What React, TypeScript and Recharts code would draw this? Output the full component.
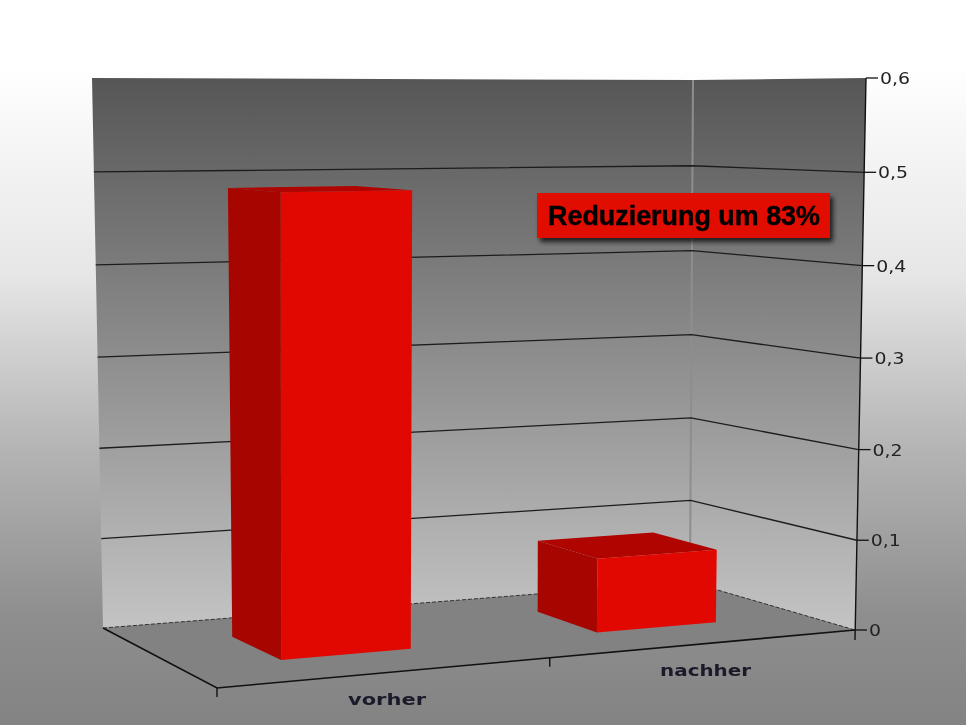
import { Bar, BarChart, Customized, XAxis, YAxis } from 'recharts';

const CATEGORIES = ['vorher', 'nachher'];
const VALUES = [0.485, 0.082];
const Y_TICKS = [0, 0.1, 0.2, 0.3, 0.4, 0.5, 0.6];
const Y_MAX = 0.6;
const CALLOUT = 'Reduzierung um 83%';

const chartData = CATEGORIES.map((name, i) => ({ name, value: VALUES[i] }));

const WIDTH = 966;
const HEIGHT = 725;
const PLOT = { left: 217, right: 855, top: 78, bottom: 630 };
const PLOT_W = PLOT.right - PLOT.left;
const PLOT_H = PLOT.bottom - PLOT.top;

// corners of the 3d box on screen: front-left, front-right, back-right, back-left
const FLOOR = [[217, 688], [855, 630], [690, 582], [103, 628]];
const CEILING = [[219, 78], [866, 78], [693, 80], [92, 78]];

// how far the bars sit into the box (0 = front edge, 1 = back wall)
const BAR_FRONT = 0.32;
const BAR_BACK = 0.72;

const quad = (c: number[][], u: number, w: number) =>
  [0, 1].map(k =>
    (1 - w) * ((1 - u) * c[0][k] + u * c[1][k]) + w * ((1 - u) * c[3][k] + u * c[2][k])
  );

// t and f are plain 0..1 positions along the axes, the rest is perspective
const project = (t: number, w: number, f: number) => {
  const u = (1.09 * t) / (1 + 0.09 * t);
  const v = f / (1 + 0.03 * (1 - f));
  const a = quad(FLOOR, u, w);
  const b = quad(CEILING, u, w);
  return [a[0] + (b[0] - a[0]) * v, a[1] + (b[1] - a[1]) * v];
};

const pts = (list: number[][]) => list.map(p => `${p[0]},${p[1]}`).join(' ');

const Box = () => {
  const backLeft = [project(0, 1, 0), project(0, 1, 1)];
  const corner = [project(1, 1, 0), project(1, 1, 1)];
  const right = [project(1, 0, 0), project(1, 0, 1)];
  return (
    <g>
      <defs>
        <linearGradient id="wall" gradientUnits="userSpaceOnUse" x1="0" x2="0" y1={PLOT.top} y2={PLOT.bottom}>
          <stop offset="0" stopColor="#565656" />
          <stop offset="1" stopColor="#c4c4c4" />
        </linearGradient>
        <filter id="callout" x="-10%" y="-20%" width="120%" height="150%">
          <feDropShadow dx="3" dy="4" stdDeviation="2.5" floodColor="#000" floodOpacity="0.75" />
        </filter>
      </defs>
      <polygon points={pts([backLeft[0], corner[0], corner[1], backLeft[1]])} fill="url(#wall)" />
      <polygon points={pts([corner[0], right[0], right[1], corner[1]])} fill="url(#wall)" />
      <polygon points={pts([project(0, 0, 0), project(1, 0, 0), project(1, 1, 0), project(0, 1, 0)])} fill="#828282" />
      <line x1={corner[0][0]} y1={corner[0][1]} x2={corner[1][0]} y2={corner[1][1]} stroke="#8e8e8e" strokeWidth={2} />
      {Y_TICKS.filter(v => v > 0 && v < Y_MAX).map(v => {
        const f = v / Y_MAX;
        return (
          <polyline
            key={v}
            points={pts([project(0, 1, f), project(1, 1, f), project(1, 0, f)])}
            fill="none"
            stroke="#1c1c1c"
            strokeWidth={1.3}
          />
        );
      })}
      <polyline
        points={pts([project(0, 1, 0), project(1, 1, 0), project(1, 0, 0)])}
        fill="none"
        stroke="#333"
        strokeWidth={1}
        strokeDasharray="4 2"
      />
      <polyline
        points={pts([project(0, 1, 0), project(0, 0, 0), project(1, 0, 0)])}
        fill="none"
        stroke="#111"
        strokeWidth={1.6}
      />
      <line x1={right[1][0]} y1={right[1][1]} x2={right[0][0]} y2={right[0][1] + 10} stroke="#111" strokeWidth={1.4} />
      {CATEGORIES.map((_, i) => i / CATEGORIES.length).map(t => {
        const p = project(t, 0, 0);
        return <line key={t} x1={p[0]} y1={p[1]} x2={p[0]} y2={p[1] + 9} stroke="#111" strokeWidth={1.4} />;
      })}
    </g>
  );
};

const Callout = () => (
  <g>
    <rect x={537} y={193} width={293} height={45} fill="#e00800" filter="url(#callout)" />
    <text
      x={548}
      y={225}
      fontFamily="Liberation Sans"
      fontWeight="bold"
      fontSize={27}
      fill="#000"
      stroke="#000"
      strokeWidth={0.4}
      textLength={272}
      lengthAdjust="spacingAndGlyphs"
    >
      {CALLOUT}
    </text>
  </g>
);

const Bar3d = ({ x, y, width, height }: any) => {
  const t0 = (x - PLOT.left) / PLOT_W;
  const t1 = (x + width - PLOT.left) / PLOT_W;
  const f = height / PLOT_H;
  return (
    <g>
      <polygon
        points={pts([project(t0, BAR_BACK, f), project(t1, BAR_BACK, f), project(t1, BAR_FRONT, f), project(t0, BAR_FRONT, f)])}
        fill="#b00400"
      />
      <polygon
        points={pts([project(t0, BAR_BACK, 0), project(t0, BAR_FRONT, 0), project(t0, BAR_FRONT, f), project(t0, BAR_BACK, f)])}
        fill="#a60500"
      />
      <polygon
        points={pts([project(t0, BAR_FRONT, 0), project(t1, BAR_FRONT, 0), project(t1, BAR_FRONT, f), project(t0, BAR_FRONT, f)])}
        fill="#e00800"
      />
    </g>
  );
};

const YTick = ({ y, payload }: any) => {
  const p = project(1, 0, (PLOT.bottom - y) / PLOT_H);
  const label = String(payload.value).replace('.', ',');
  return (
    <g>
      <line x1={p[0]} y1={p[1]} x2={p[0] + 12} y2={p[1]} stroke="#111" strokeWidth={1.3} />
      <text
        x={p[0] + 14}
        y={p[1] + 6}
        fontFamily="DejaVu Sans"
        fontSize={16}
        fill="#222"
        textLength={label.length === 1 ? 12 : 30}
        lengthAdjust="spacingAndGlyphs"
      >
        {label}
      </text>
    </g>
  );
};

const XTick = ({ x, payload }: any) => {
  const p = project((x - PLOT.left) / PLOT_W, 0, 0);
  return (
    <text
      x={p[0]}
      y={p[1] + 32}
      textAnchor="middle"
      fontFamily="DejaVu Sans"
      fontWeight="bold"
      fontSize={15}
      fill="#1a1a2a"
      textLength={payload.value.length * 13}
      lengthAdjust="spacingAndGlyphs"
    >
      {payload.value}
    </text>
  );
};

export default function App() {
  return (
    <div
      style={{
        position  : 'absolute',
        left      : 0,
        top       : 0,
        width     : WIDTH,
        height    : HEIGHT,
        background: 'linear-gradient(#fff 0, #fff 9%, #e6e6e6 38%, #b4b4b4 62%, #8e8e8e 85%, #838383 100%)'
      }}
    >
      <div style={{ filter: 'blur(0.5px)' }}>
        <BarChart
          width={WIDTH}
          height={HEIGHT}
          data={chartData}
          barSize={PLOT_W * 0.2}
          margin={{ top: PLOT.top, right: 0, left: PLOT.left, bottom: HEIGHT - PLOT.bottom - 30 }}
        >
          <Customized component={Box} />
          <XAxis dataKey="name" height={30} axisLine={false} tickLine={false} tick={XTick} interval={0} />
          <YAxis
            orientation="right"
            width={WIDTH - PLOT.right}
            domain={[0, Y_MAX]}
            ticks={Y_TICKS}
            interval={0}
            axisLine={false}
            tickLine={false}
            tick={YTick}
          />
          <Bar dataKey="value" shape={Bar3d} isAnimationActive={false} />
          <Customized component={Callout} />
        </BarChart>
      </div>
    </div>
  );
}
